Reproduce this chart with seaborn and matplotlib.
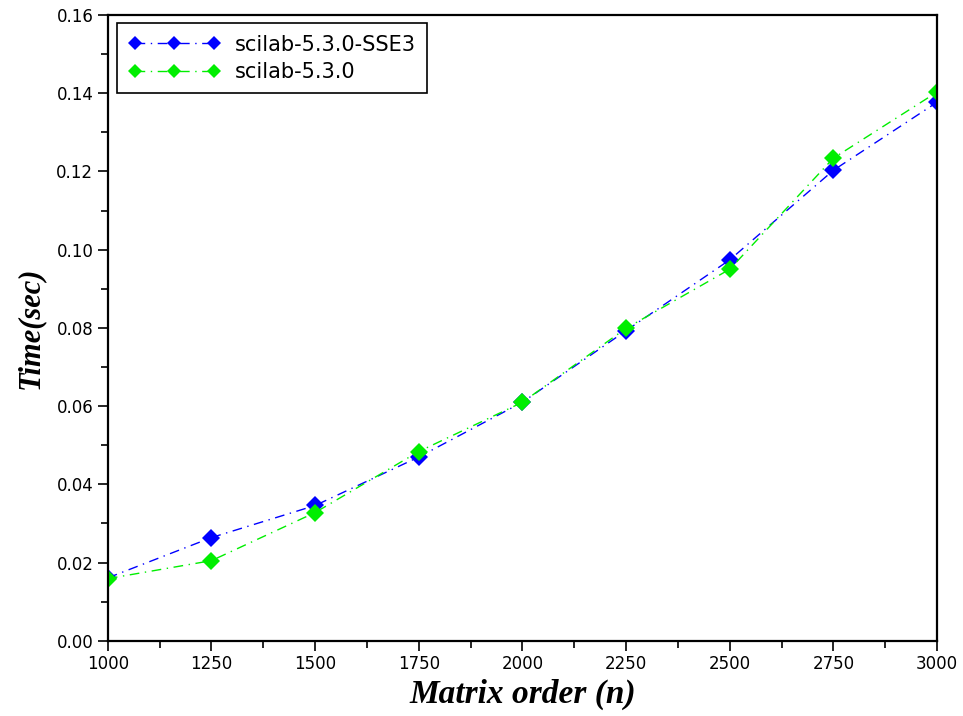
import matplotlib
matplotlib.use("Agg")
import matplotlib.pyplot as plt
from matplotlib.ticker import MultipleLocator, FormatStrFormatter
import pandas as pd
import seaborn as sns

# Matrix sizes and timings
matrix_order = [1000, 1250, 1500, 1750, 2000, 2250, 2500, 2750, 3000]
time_sse3 = [0.0161, 0.0264, 0.0346, 0.0470, 0.0610, 0.0793, 0.0974, 0.1203, 0.1377]
time_plain = [0.0159, 0.0205, 0.0328, 0.0484, 0.0610, 0.0799, 0.0950, 0.1234, 0.1403]
series_names = ["scilab-5.3.0-SSE3", "scilab-5.3.0"]

df = pd.DataFrame({
    "n": matrix_order * 2,
    "time": time_sse3 + time_plain,
    "version": [series_names[0]] * len(matrix_order) + [series_names[1]] * len(matrix_order),
})

sns.set_theme(style="ticks")
plt.rcParams["font.family"] = ["DejaVu Sans"]
for key in ("text.color", "axes.labelcolor", "xtick.color", "ytick.color", "axes.edgecolor"):
    plt.rcParams[key] = "black"

fig = plt.figure(figsize=(9.63, 7.16), dpi=100)
ax = fig.add_axes([0.112, 0.105, 0.861, 0.874])

palette = {series_names[0]: "#0000ff", series_names[1]: "#00ee00"}
dash_dot = (7, 4, 1, 4)
sns.lineplot(
    data=df, x="n", y="time", hue="version", style="version",
    palette=palette, markers={s: "D" for s in series_names},
    dashes={s: dash_dot for s in series_names},
    linewidth=1.0, markersize=9, markeredgewidth=0, ax=ax,
)

ax.set_xlim(1000, 3000)
ax.set_ylim(0, 0.16)
ax.xaxis.set_major_locator(MultipleLocator(250))
ax.xaxis.set_minor_locator(MultipleLocator(125))
ax.yaxis.set_major_locator(MultipleLocator(0.02))
ax.yaxis.set_minor_locator(MultipleLocator(0.01))
ax.yaxis.set_major_formatter(FormatStrFormatter("%.2f"))

ax.tick_params(axis="both", which="major", direction="out", length=7, width=1.2,
               colors="black", labelsize=12)
ax.tick_params(axis="both", which="minor", direction="out", length=5, width=1.2)
for sp in ax.spines.values():
    sp.set_color("black")
    sp.set_linewidth(1.6)

label_font = dict(family="Liberation Serif", weight="bold", style="italic", color="black")
ax.set_xlabel("Matrix order (n)", fontsize=24, labelpad=4, **label_font)
ax.set_ylabel("Time(sec)", fontsize=22, labelpad=8, **label_font)

leg = ax.legend(loc="upper left", bbox_to_anchor=(0.011, 0.987), borderaxespad=0,
                fontsize=15, frameon=True, fancybox=False, edgecolor="black",
                numpoints=3, handlelength=4.4, borderpad=0.55, labelspacing=0.35,
                handletextpad=0.7, title=None)
leg.get_frame().set_linewidth(1.2)
leg.get_frame().set_alpha(1)
for h in leg.legend_handles:
    h.set_markersize(7.5)
for t in leg.get_texts():
    t.set_color("black")

fig.savefig("out.png", dpi=100, facecolor="white")
